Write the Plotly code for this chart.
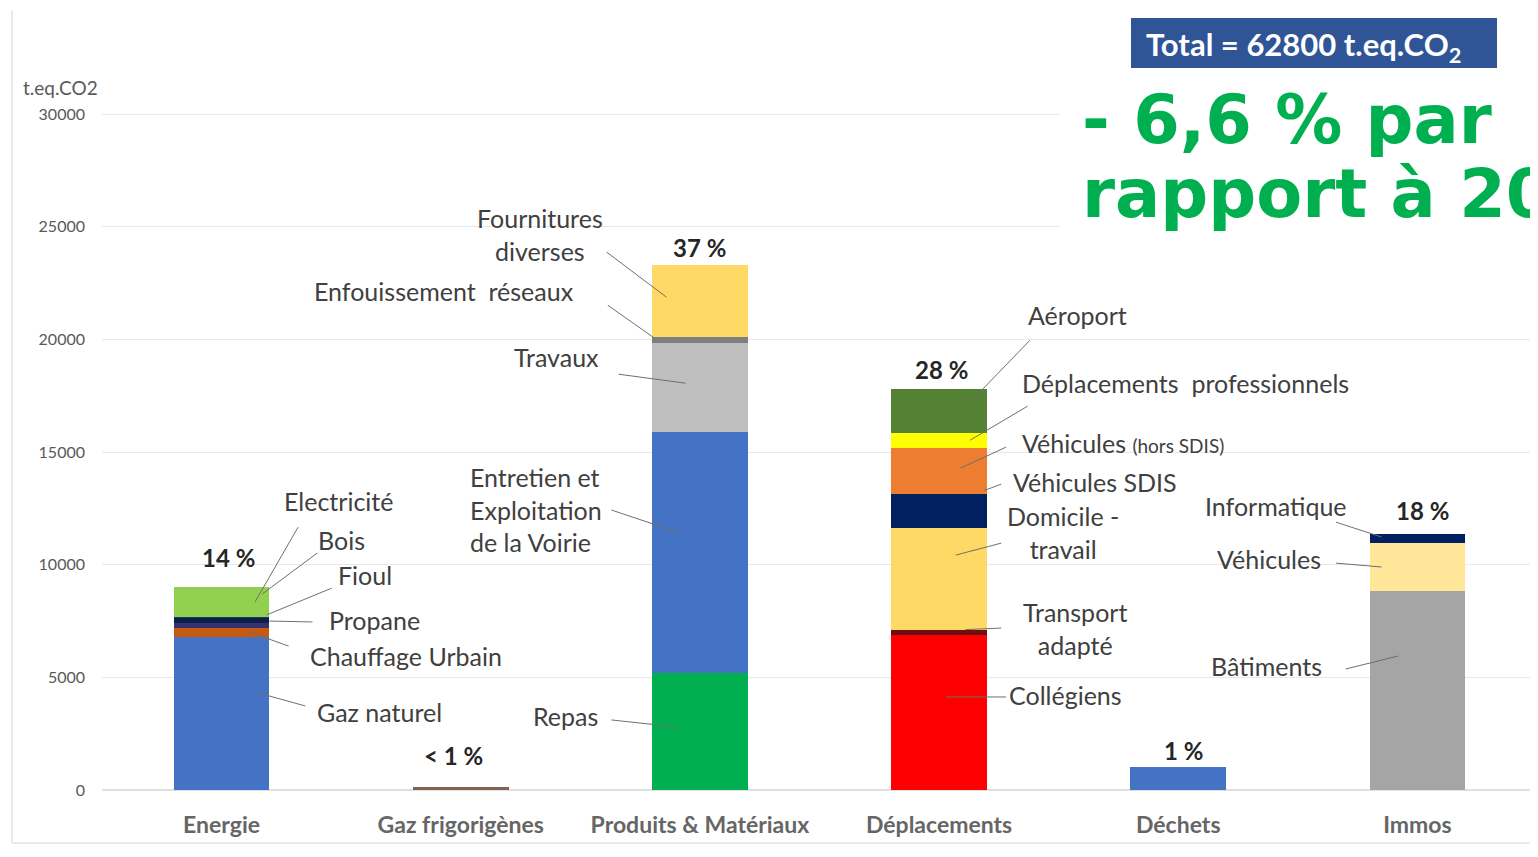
import plotly.graph_objects as go

# categories and stacked segments (t.eq.CO2)
categories = ["Energie", "Gaz frigorigènes", "Produits & Matériaux", "Déplacements", "Déchets", "Immos"]

energie_names = ["Gaz naturel", "Chauffage Urbain", "Propane", "Fioul", "Bois", "Electricité"]
energie_values = [6800, 400, 200, 250, 50, 1300]

gaz_names = ["Gaz frigorigènes"]
gaz_values = [150]

produits_names = ["Repas", "Entretien et Exploitation de la Voirie", "Travaux", "Enfouissement réseaux", "Fournitures diverses"]
produits_values = [5200, 10700, 3950, 250, 3200]

deplacements_names = ["Collégiens", "Transport adapté", "Domicile - travail", "Véhicules SDIS",
                      "Véhicules (hors SDIS)", "Déplacements professionnels", "Aéroport"]
deplacements_values = [6900, 200, 4550, 1500, 2050, 650, 1950]

dechets_names = ["Déchets"]
dechets_values = [1000]

immos_names = ["Bâtiments", "Véhicules", "Informatique"]
immos_values = [8850, 2100, 400]

pct_labels = ["14 %", "< 1 %", "37 %", "28 %", "1 %", "18 %"]
total_text = "Total = 62800 t.eq.CO<sub>2</sub>"

# colours per segment
energie_colors = ["#4472C4", "#C55A11", "#35306E", "#0B1F4A", "#1F3864", "#92D050"]
gaz_colors = ["#7F6252"]
produits_colors = ["#00B050", "#4472C4", "#BFBFBF", "#7F7F7F", "#FFD966"]
deplacements_colors = ["#FF0000", "#6E0E0E", "#FFD966", "#002060", "#ED7D31", "#FFFF00", "#548235"]
dechets_colors = ["#4472C4"]
immos_colors = ["#A5A5A5", "#FFE699", "#002060"]

groups = [
    (categories[0], energie_names, energie_values, energie_colors),
    (categories[1], gaz_names, gaz_values, gaz_colors),
    (categories[2], produits_names, produits_values, produits_colors),
    (categories[3], deplacements_names, deplacements_values, deplacements_colors),
    (categories[4], dechets_names, dechets_values, dechets_colors),
    (categories[5], immos_names, immos_values, immos_colors),
]

# page has an 8px body margin, so the figure is a bit smaller than the window
OFF = 8
W, H = 1530, 849
ML, MT = 94, 104
PW, PH = 1435, 678
MR, MB = W - ML - PW, H - MT - PH


def xp(px):  # screen px -> paper x
    return (px - OFF - ML) / PW


def yp(py):  # screen px -> paper y
    return (OFF + MT + PH - py) / PH


fig = go.Figure()
for cat, names, vals, cols in groups:
    for n, v, c in zip(names, vals, cols):
        fig.add_trace(go.Bar(x=[cat], y=[v], name=n, marker=dict(color=c, line=dict(width=0)),
                             showlegend=False, hoverinfo="name+y"))

TXT = dict(family="Lato", size=25, color="#404040")
LINE = dict(color="#6F6F6F", width=1)

# segment labels: text, x (category index), y, anchor, leader line
labels = [
    ("Electricité", 0.49, 12830, "center", (0.32, 11670, 0.14, 8350)),
    ("Bois", 0.50, 11100, "center", (0.40, 10520, 0.17, 8700)),
    ("Fioul", 0.60, 9540, "center", (0.46, 8960, 0.19, 7780)),
    ("Propane", 0.64, 7540, "center", (0.38, 7460, 0.20, 7500)),
    ("Chauffage Urbain", 0.77, 5950, "center", (0.28, 6390, 0.12, 7000)),
    ("Gaz naturel", 0.66, 3460, "center", (0.35, 3730, 0.14, 4350)),
    ("Fournitures<br>diverses", 1.33, 24680, "center", (1.61, 23880, 1.86, 21880)),
    ("Enfouissement  réseaux", 0.93, 22150, "center", (1.615, 21520, 1.81, 20060)),
    ("Travaux", 1.40, 19220, "center", (1.66, 18460, 1.94, 18060)),
    ("Entretien et<br>Exploitation<br>de la Voirie", 1.03, 12470, "left", (1.63, 12430, 1.92, 11400)),
    ("Repas", 1.44, 3280, "center", (1.63, 3110, 1.90, 2800)),
    ("Aéroport", 3.58, 21080, "center", (3.38, 19970, 3.13, 17220)),
    ("Déplacements  professionnels", 4.03, 18060, "center", (3.37, 17040, 3.13, 15530)),
    ("Véhicules <span style='font-size:19px'>(hors SDIS)</span>", 3.34, 15400, "left", (3.28, 15220, 3.09, 14290)),
    ("Véhicules SDIS", 3.30, 13670, "left", (3.26, 13580, 3.19, 13300)),
    ("Domicile -<br>travail", 3.52, 11410, "center", (3.26, 10960, 3.07, 10430)),
    ("Transport<br>adapté", 3.57, 7190, "center", (3.26, 7190, 3.11, 7120)),
    ("Collégiens", 3.53, 4220, "center", (3.28, 4130, 3.03, 4130)),
    ("Informatique", 4.41, 12600, "center", (4.66, 11890, 4.85, 11230)),
    ("Véhicules", 4.38, 10250, "center", (4.66, 10070, 4.85, 9900)),
    ("Bâtiments", 4.37, 5500, "center", (4.70, 5370, 4.92, 5950)),
]
for text, x, y, anchor, (x0, y0, x1, y1) in labels:
    fig.add_annotation(x=x, y=y, xref="x", yref="y", text=text, showarrow=False,
                       xanchor=anchor, align=anchor, font=TXT)
    fig.add_shape(type="line", xref="x", yref="y", x0=x0, y0=y0, x1=x1, y1=y1, line=LINE)

pct_pos = [(0.03, 10300), (0.97, 1510), (2.0, 24100), (3.01, 18680), (4.02, 1775), (5.02, 12430)]
for t, (x, y) in zip(pct_labels, pct_pos):
    fig.add_annotation(x=x, y=y, xref="x", yref="y", text="<b>" + t + "</b>", showarrow=False,
                       font=dict(family="Lato", size=24, color="#262626"))

# chart-area border (left and bottom edges only are visible)
BORDER = dict(color="#E3E3E3", width=1.5)
fig.add_shape(type="line", xref="paper", yref="paper", x0=xp(12), y0=yp(843), x1=xp(12), y1=yp(10),
              line=BORDER, layer="below")
fig.add_shape(type="line", xref="paper", yref="paper", x0=xp(12), y0=yp(843), x1=xp(1600), y1=yp(843),
              line=BORDER, layer="below")
# white area behind the green note
fig.add_shape(type="rect", xref="paper", yref="paper", x0=xp(1060), y0=yp(236), x1=xp(1600), y1=yp(68),
              line=dict(width=0), fillcolor="white", layer="above")
# total box
fig.add_shape(type="rect", xref="paper", yref="paper", x0=xp(1131), y0=yp(68), x1=xp(1497), y1=yp(18),
              line=dict(width=0), fillcolor="#2F5597", layer="above")
fig.add_annotation(xref="paper", yref="paper", x=xp(1144), y=yp(46), xanchor="left", yanchor="middle",
                   text="<b>" + total_text + "</b>", showarrow=False,
                   font=dict(family="Lato", size=31, color="white"))

fig.add_annotation(xref="paper", yref="paper", x=xp(1080), y=yp(120), xanchor="left", yanchor="middle",
                   text="<b>- 6,6 % par</b>", showarrow=False,
                   font=dict(family="DejaVu Sans", size=67, color="#00B050"))
fig.add_annotation(xref="paper", yref="paper", x=xp(1080), y=yp(194), xanchor="left", yanchor="middle",
                   text="<b>rapport à 2019</b>", showarrow=False,
                   font=dict(family="DejaVu Sans", size=67, color="#00B050"))

fig.add_annotation(xref="paper", yref="paper", x=xp(60), y=yp(88), xanchor="center", yanchor="middle",
                   text="t.eq.CO2", showarrow=False,
                   font=dict(family="Lato", size=19, color="#595959"))

fig.update_layout(
    width=W, height=H,
    margin=dict(l=ML, r=MR, t=MT, b=MB),
    barmode="stack", bargap=0.6,
    plot_bgcolor="white", paper_bgcolor="white",
    xaxis=dict(type="category", categoryorder="array", categoryarray=categories,
               showgrid=False, showline=False, ticks="", ticklabelstandoff=19,
               tickfont=dict(family="Lato", size=23, color="#666666", weight="bold")),
    yaxis=dict(range=[0, 30100], tickvals=[0, 5000, 10000, 15000, 20000, 25000, 30000],
               showgrid=True, gridcolor="#E8E8E8", gridwidth=1, zeroline=True, zerolinecolor="#E0E0E0",
               showline=False, ticks="", ticklabelstandoff=16, tickformat="d",
               tickfont=dict(family="Lato", size=16, color="#595959")),
)

fig.write_html("out.html")
